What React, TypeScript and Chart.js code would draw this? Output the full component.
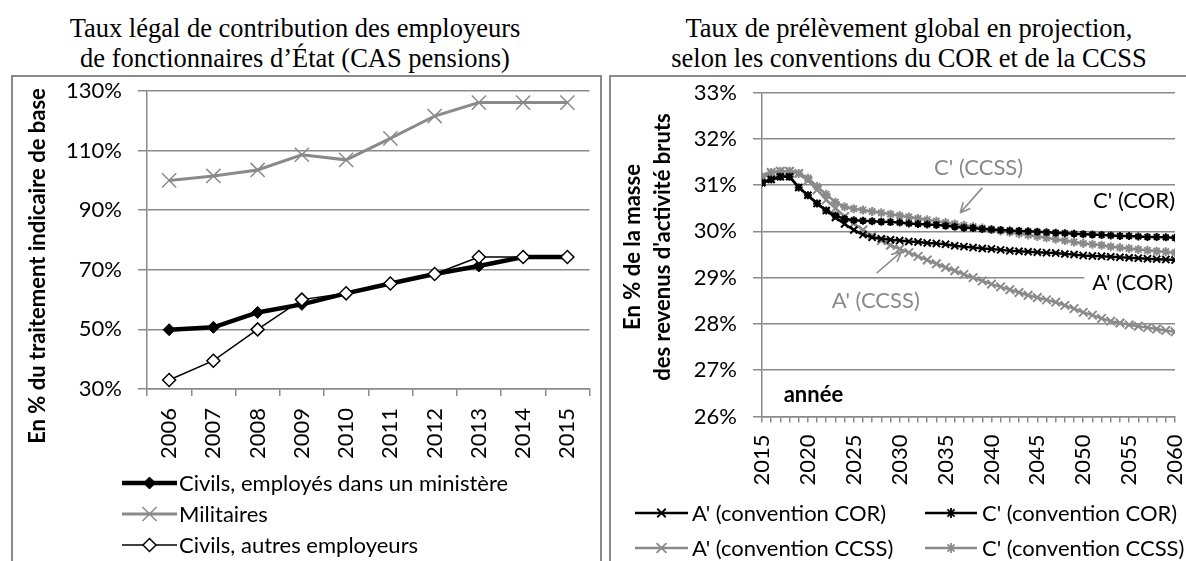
import React, { useEffect, useRef } from 'react';
import { Chart, registerables } from 'chart.js';

Chart.register(...registerables);

const GRAY = '#8a8a8a';
const FONT = 'Lato';

// ---------- Left chart data ----------
const leftYears = ['2006', '2007', '2008', '2009', '2010', '2011', '2012', '2013', '2014', '2015'];
const civilsMinistere = [49.9, 50.7, 55.7, 58.4, 62.1, 65.4, 68.6, 71.3, 74.3, 74.3];
const militaires = [100.0, 101.5, 103.5, 108.6, 106.9, 114.1, 121.6, 126.1, 126.1, 126.1];
const civilsAutres = [33.0, 39.5, 50.0, 60.0, 62.1, 65.4, 68.6, 74.3, 74.3, 74.3];

// ---------- Right chart data ----------
const rightYears = [
  2015, 2016, 2017, 2018, 2019, 2020, 2021, 2022, 2023, 2024,
  2025, 2026, 2027, 2028, 2029, 2030, 2031, 2032, 2033, 2034,
  2035, 2036, 2037, 2038, 2039, 2040, 2041, 2042, 2043, 2044,
  2045, 2046, 2047, 2048, 2049, 2050, 2051, 2052, 2053, 2054,
  2055, 2056, 2057, 2058, 2059, 2060,
];
const aCor = [
  31.05, 31.12, 31.18, 31.18, 30.95, 30.78, 30.6, 30.45, 30.3, 30.16,
  30.03, 29.93, 29.87, 29.84, 29.82, 29.8, 29.78, 29.77, 29.75, 29.74,
  29.72, 29.69, 29.67, 29.65, 29.63, 29.62, 29.6, 29.58, 29.57, 29.56,
  29.55, 29.54, 29.53, 29.51, 29.5, 29.48, 29.47, 29.46, 29.45, 29.44,
  29.43, 29.42, 29.41, 29.4, 29.39, 29.38,
];
const cCor = [
  31.05, 31.12, 31.18, 31.18, 30.95, 30.78, 30.6, 30.45, 30.34, 30.27,
  30.24, 30.23, 30.22, 30.21, 30.2, 30.19, 30.17, 30.16, 30.15, 30.14,
  30.12, 30.1, 30.08, 30.07, 30.05, 30.04, 30.03, 30.02, 30.01, 30.0,
  29.99, 29.98, 29.97, 29.96, 29.95, 29.94, 29.93, 29.92, 29.91, 29.9,
  29.9, 29.89, 29.88, 29.88, 29.87, 29.86,
];
const aCcss = [
  31.18, 31.27, 31.3, 31.3, 31.25, 31.1, 30.9, 30.68, 30.5, 30.32,
  30.17, 30.03, 29.91, 29.8, 29.7, 29.62, 29.54, 29.46, 29.38, 29.3,
  29.22, 29.15, 29.07, 29.0, 28.93, 28.86, 28.8, 28.74, 28.68, 28.62,
  28.57, 28.52, 28.47, 28.4, 28.33, 28.25, 28.19, 28.12, 28.06, 28.02,
  27.98, 27.95, 27.92, 27.89, 27.86, 27.83,
];
const cCcss = [
  31.18, 31.27, 31.3, 31.3, 31.25, 31.15, 30.97, 30.8, 30.63, 30.53,
  30.49, 30.46, 30.43, 30.4, 30.37, 30.34, 30.31, 30.28, 30.25, 30.22,
  30.19, 30.16, 30.13, 30.1, 30.07, 30.04, 30.01, 29.98, 29.95, 29.92,
  29.89, 29.86, 29.83, 29.8, 29.77, 29.74, 29.72, 29.7, 29.67, 29.65,
  29.63, 29.61, 29.59, 29.57, 29.56, 29.54,
];

const leftTitle = ['Taux légal de contribution des employeurs', 'de fonctionnaires d\u2019État (CAS pensions)'];
const rightTitle = ['Taux de prélèvement global en projection,', 'selon les conventions du COR et de la CCSS'];
const leftAxisTitle = 'En % du traitement indicaire de base';
const rightAxisTitle = ['En % de la masse', 'des revenus d\'activité bruts'];

// ---------- helpers ----------
function drawMarker(
  ctx: CanvasRenderingContext2D, style: string, x: number, y: number, r: number,
  stroke: string, fill: string, lw: number,
) {
  ctx.save();
  ctx.lineWidth = lw;
  ctx.strokeStyle = stroke;
  ctx.fillStyle = fill;
  ctx.beginPath();
  const d = r * Math.SQRT1_2;
  if (style === 'rectRot') {
    ctx.moveTo(x - r, y);
    ctx.lineTo(x, y - r);
    ctx.lineTo(x + r, y);
    ctx.lineTo(x, y + r);
    ctx.closePath();
    ctx.fill();
    ctx.stroke();
  } else if (style === 'crossRot') {
    ctx.moveTo(x - d, y - d); ctx.lineTo(x + d, y + d);
    ctx.moveTo(x + d, y - d); ctx.lineTo(x - d, y + d);
    ctx.stroke();
  } else if (style === 'star') {
    ctx.moveTo(x - d, y - d); ctx.lineTo(x + d, y + d);
    ctx.moveTo(x + d, y - d); ctx.lineTo(x - d, y + d);
    ctx.moveTo(x, y - r); ctx.lineTo(x, y + r);
    ctx.moveTo(x - r, y); ctx.lineTo(x + r, y);
    ctx.stroke();
  }
  ctx.restore();
}

type LegendItem = {
  text: string; x1: number; x2: number; tx: number; y: number;
  color: string; lw: number; style: string; r: number; fill: string; mlw: number;
};

function drawLegend(ctx: CanvasRenderingContext2D, items: LegendItem[]) {
  ctx.save();
  ctx.font = `22px ${FONT}`;
  ctx.textBaseline = 'middle';
  ctx.textAlign = 'left';
  for (const it of items) {
    ctx.beginPath();
    ctx.strokeStyle = it.color;
    ctx.lineWidth = it.lw;
    ctx.moveTo(it.x1, it.y);
    ctx.lineTo(it.x2, it.y);
    ctx.stroke();
    drawMarker(ctx, it.style, (it.x1 + it.x2) / 2, it.y, it.r, it.color, it.fill, it.mlw);
    ctx.fillStyle = '#000';
    ctx.fillText(it.text, it.tx, it.y + 1);
  }
  ctx.restore();
}

function drawArrow(ctx: CanvasRenderingContext2D, x1: number, y1: number, x2: number, y2: number, color: string) {
  ctx.save();
  ctx.strokeStyle = color;
  ctx.lineWidth = 1.6;
  ctx.beginPath();
  ctx.moveTo(x1, y1);
  ctx.lineTo(x2, y2);
  const a = Math.atan2(y2 - y1, x2 - x1);
  const L = 11;
  ctx.moveTo(x2, y2);
  ctx.lineTo(x2 - L * Math.cos(a - 0.45), y2 - L * Math.sin(a - 0.45));
  ctx.moveTo(x2, y2);
  ctx.lineTo(x2 - L * Math.cos(a + 0.45), y2 - L * Math.sin(a + 0.45));
  ctx.stroke();
  ctx.restore();
}

// ---------- Left chart ----------
const LEFT_TOP = 76;

const leftDecor = {
  id: 'leftDecor',
  afterDraw(chart: any) {
    const ctx: CanvasRenderingContext2D = chart.ctx;
    ctx.save();
    ctx.font = `bold 22px ${FONT}`;
    ctx.fillStyle = '#000';
    ctx.textAlign = 'center';
    ctx.textBaseline = 'middle';
    ctx.translate(38, 190);
    ctx.rotate(-Math.PI / 2);
    ctx.fillText(leftAxisTitle, 0, 0);
    ctx.restore();
    const ds = chart.data.datasets;
    drawLegend(ctx, [
      { text: ds[0].label, x1: 122, x2: 177, tx: 179, y: 407, color: '#000', lw: 4.5, style: 'rectRot', r: 6, fill: '#000', mlw: 1 },
      { text: ds[1].label, x1: 122, x2: 177, tx: 179, y: 438, color: GRAY, lw: 3, style: 'crossRot', r: 10, fill: GRAY, mlw: 1.5 },
      { text: ds[2].label, x1: 122, x2: 177, tx: 179, y: 469, color: '#000', lw: 1.5, style: 'rectRot', r: 6.5, fill: '#fff', mlw: 1.5 },
    ]);
  },
};

function LeftChart() {
  const ref = useRef<HTMLCanvasElement>(null);
  useEffect(() => {
    const chart = new Chart(ref.current as HTMLCanvasElement, {
      type: 'line',
      data: {
        labels: leftYears,
        datasets: [
          {
            label: 'Civils, employés dans un ministère', data: civilsMinistere,
            borderColor: '#000', backgroundColor: '#000', borderWidth: 4.5,
            pointStyle: 'rectRot', pointRadius: 6, pointBackgroundColor: '#000',
            pointBorderColor: '#000', pointBorderWidth: 1, order: 1,
          },
          {
            label: 'Militaires', data: militaires,
            borderColor: GRAY, backgroundColor: GRAY, borderWidth: 3,
            pointStyle: 'crossRot', pointRadius: 10, pointBorderColor: GRAY,
            pointBorderWidth: 1.5, order: 2,
          },
          {
            label: 'Civils, autres employeurs', data: civilsAutres,
            borderColor: '#000', backgroundColor: '#fff', borderWidth: 1.5,
            pointStyle: 'rectRot', pointRadius: 6.5, pointBackgroundColor: '#fff',
            pointBorderColor: '#000', pointBorderWidth: 1.5, order: 0,
          },
        ],
      },
      options: {
        animation: false,
        responsive: false,
        maintainAspectRatio: false,
        layout: { padding: { left: 0, right: 1, top: 15, bottom: 92 } },
        plugins: { legend: { display: false }, tooltip: { enabled: false } },
        scales: {
          x: {
            type: 'category',
            offset: true,
            grid: { display: true, drawOnChartArea: false, drawTicks: true, tickLength: 7, offset: true, color: GRAY, lineWidth: 1.5 },
            border: { color: GRAY, width: 1.5 },
            ticks: { color: '#000', font: { family: FONT, size: 22 }, minRotation: 90, maxRotation: 90, padding: 12, autoSkip: false },
            afterFit(s: any) { s.height = 80; s.paddingLeft = 0; s.paddingRight = 0; },
          },
          y: {
            min: 30, max: 130,
            ticks: { stepSize: 20, callback: (v: any) => v + '%', color: '#000', font: { family: FONT, size: 22 }, padding: 16 },
            grid: { color: GRAY, lineWidth: 1.5, tickLength: 9 },
            border: { color: GRAY, width: 1.5 },
            afterFit(s: any) { s.width = 147; s.paddingTop = 0; s.paddingBottom = 0; },
          },
        },
      } as any,
      plugins: [leftDecor],
    });
    return () => chart.destroy();
  }, []);
  return (
    <canvas
      ref={ref}
      width={601}
      height={485}
      style={{ position: 'absolute', left: 0, top: LEFT_TOP, width: 601, height: 485 }}
    />
  );
}

// ---------- Right chart ----------
const RIGHT_LEFT = 612;

const annotations = [
  { text: "C' (CCSS)", year: 2038.6, value: 31.39, color: GRAY, align: 'center', bold: false, bg: false },
  { text: "C' (COR)", year: 2060, value: 30.68, color: '#000', align: 'right', bold: false, bg: false },
  { text: "A' (COR)", year: 2059.8, value: 28.91, color: '#000', align: 'right', bold: false, bg: true },
  { text: "A' (CCSS)", year: 2027.4, value: 28.52, color: GRAY, align: 'center', bold: false, bg: false },
  { text: 'année', year: 2020.6, value: 26.49, color: '#000', align: 'center', bold: true, bg: false },
];
const arrows = [
  { from: [2039.0, 30.94], to: [2036.6, 30.4] },
  { from: [2027.5, 29.1], to: [2030.2, 29.56] },
];

const rightDecor = {
  id: 'rightDecor',
  afterDatasetsDraw(chart: any) {
    const ctx: CanvasRenderingContext2D = chart.ctx;
    const xs = chart.scales.x;
    const ys = chart.scales.y;
    for (const a of arrows) {
      drawArrow(ctx, xs.getPixelForValue(a.from[0]), ys.getPixelForValue(a.from[1]),
        xs.getPixelForValue(a.to[0]), ys.getPixelForValue(a.to[1]), GRAY);
    }
    ctx.save();
    ctx.textBaseline = 'middle';
    for (const a of annotations) {
      ctx.font = `${a.bold ? 'bold ' : ''}22px ${FONT}`;
      ctx.textAlign = a.align as CanvasTextAlign;
      const x = xs.getPixelForValue(a.year);
      const y = ys.getPixelForValue(a.value);
      if (a.bg) {
        const w = ctx.measureText(a.text).width;
        const left = a.align === 'right' ? x - w : x - w / 2;
        ctx.fillStyle = '#fff';
        ctx.fillRect(left - 8, y - 13, w + 16, 26);
      }
      ctx.fillStyle = a.color;
      ctx.fillText(a.text, x, y + 1);
    }
    ctx.restore();
  },
  afterDraw(chart: any) {
    const ctx: CanvasRenderingContext2D = chart.ctx;
    ctx.save();
    ctx.font = `bold 22px ${FONT}`;
    ctx.fillStyle = '#000';
    ctx.textAlign = 'center';
    ctx.textBaseline = 'middle';
    ctx.translate(21, 171);
    ctx.rotate(-Math.PI / 2);
    ctx.fillText(rightAxisTitle[0], 0, 0);
    ctx.restore();
    ctx.save();
    ctx.font = `bold 22px ${FONT}`;
    ctx.fillStyle = '#000';
    ctx.textAlign = 'center';
    ctx.textBaseline = 'middle';
    ctx.translate(51, 171);
    ctx.rotate(-Math.PI / 2);
    ctx.fillText(rightAxisTitle[1], 0, 0);
    ctx.restore();
    const ds = chart.data.datasets;
    drawLegend(ctx, [
      { text: ds[0].label, x1: 23, x2: 76, tx: 80, y: 437, color: '#000', lw: 2.5, style: 'crossRot', r: 6, fill: '#000', mlw: 1.8 },
      { text: ds[1].label, x1: 313, x2: 365, tx: 370, y: 437, color: '#000', lw: 2.5, style: 'star', r: 5, fill: '#000', mlw: 1.8 },
      { text: ds[2].label, x1: 23, x2: 76, tx: 80, y: 472, color: GRAY, lw: 2.5, style: 'crossRot', r: 7, fill: GRAY, mlw: 1.8 },
      { text: ds[3].label, x1: 313, x2: 365, tx: 370, y: 472, color: GRAY, lw: 2.5, style: 'star', r: 5, fill: GRAY, mlw: 1.8 },
    ]);
  },
};

function RightChart() {
  const ref = useRef<HTMLCanvasElement>(null);
  useEffect(() => {
    const pts = (vals: number[]) => rightYears.map((yr, i) => ({ x: yr, y: vals[i] }));
    const chart = new Chart(ref.current as HTMLCanvasElement, {
      type: 'line',
      data: {
        datasets: [
          {
            label: "A' (convention COR)", data: pts(aCor),
            borderColor: '#000', borderWidth: 2.5, pointStyle: 'crossRot', pointRadius: 5,
            pointBorderColor: '#000', pointBorderWidth: 2, order: 1,
          },
          {
            label: "C' (convention COR)", data: pts(cCor),
            borderColor: '#000', borderWidth: 2.5, pointStyle: 'star', pointRadius: 4,
            pointBorderColor: '#000', pointBorderWidth: 2, order: 0,
          },
          {
            label: "A' (convention CCSS)", data: pts(aCcss),
            borderColor: GRAY, borderWidth: 2.5, pointStyle: 'crossRot', pointRadius: 6,
            pointBorderColor: GRAY, pointBorderWidth: 2, order: 2,
          },
          {
            label: "C' (convention CCSS)", data: pts(cCcss),
            borderColor: GRAY, borderWidth: 2.5, pointStyle: 'star', pointRadius: 4.5,
            pointBorderColor: GRAY, pointBorderWidth: 2, order: 3,
          },
        ],
      },
      options: {
        animation: false,
        responsive: false,
        maintainAspectRatio: false,
        layout: { padding: { left: 0, right: 11, top: 16.5, bottom: 64.5 } },
        plugins: { legend: { display: false }, tooltip: { enabled: false } },
        scales: {
          x: {
            type: 'linear',
            min: 2015, max: 2060,
            grid: { display: true, drawOnChartArea: false, drawTicks: true, tickLength: 6, color: GRAY, lineWidth: 1.5 },
            border: { color: GRAY, width: 1.5 },
            ticks: {
              stepSize: 1, autoSkip: false,
              callback: (v: any) => (Number(v) % 5 === 0 ? String(v) : ''),
              color: '#000', font: { family: FONT, size: 22 }, minRotation: 90, maxRotation: 90, padding: 12,
            },
            afterFit(s: any) { s.height = 80; s.paddingLeft = 0; s.paddingRight = 0; },
          },
          y: {
            min: 26, max: 33,
            ticks: { stepSize: 1, callback: (v: any) => v + '%', color: '#000', font: { family: FONT, size: 22 }, padding: 16 },
            grid: { color: GRAY, lineWidth: 1.5, tickLength: 9 },
            border: { color: GRAY, width: 1.5 },
            afterFit(s: any) { s.width = 150; s.paddingTop = 0; s.paddingBottom = 0; },
          },
        },
      } as any,
      plugins: [rightDecor],
    });
    return () => chart.destroy();
  }, []);
  return (
    <canvas
      ref={ref}
      width={574}
      height={485}
      style={{ position: 'absolute', left: RIGHT_LEFT, top: LEFT_TOP, width: 574, height: 485 }}
    />
  );
}

const titleStyle = (cx: number): React.CSSProperties => ({
  position: 'absolute',
  left: cx - 300,
  top: 13,
  width: 600,
  textAlign: 'center',
  fontFamily: '"Liberation Serif", "Times New Roman", serif',
  fontSize: 26.5,
  lineHeight: '30px',
  color: '#000',
  whiteSpace: 'nowrap',
});

export default function App() {
  return (
    <div style={{ position: 'absolute', left: 0, top: 0, width: 1186, height: 561, background: '#fff', overflow: 'hidden' }}>
      <div style={titleStyle(295)}>
        <div>{leftTitle[0]}</div>
        <div>{leftTitle[1]}</div>
      </div>
      <div style={titleStyle(909)}>
        <div>{rightTitle[0]}</div>
        <div>{rightTitle[1]}</div>
      </div>
      <div style={{ position: 'absolute', left: 11, top: 75, width: 591, height: 500, border: `2px solid ${GRAY}`, boxSizing: 'border-box' }} />
      <div style={{ position: 'absolute', left: 609, top: 75, width: 600, height: 500, border: `2px solid ${GRAY}`, boxSizing: 'border-box' }} />
      <LeftChart />
      <RightChart />
    </div>
  );
}
